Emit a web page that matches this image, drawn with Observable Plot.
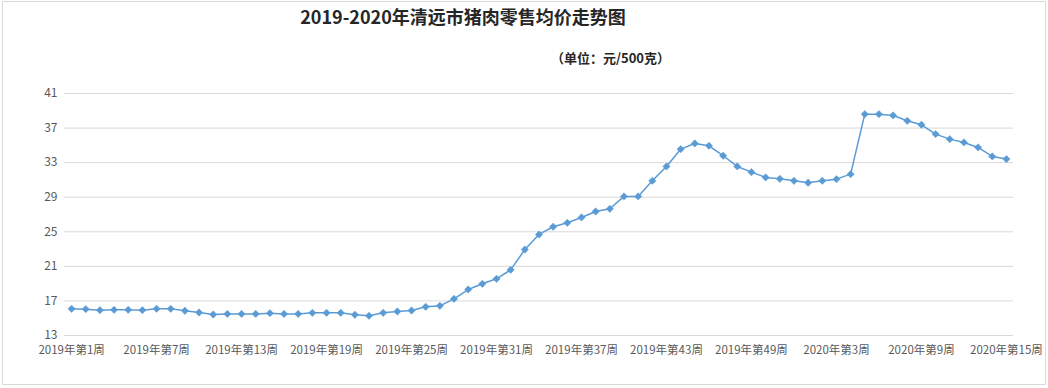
<!DOCTYPE html>
<html>
<head>
<meta charset="utf-8">
<script src="https://cdn.jsdelivr.net/npm/d3@7"></script>
<script src="https://cdn.jsdelivr.net/npm/@observablehq/plot@0.6"></script>
<style>
  html, body { margin: 0; padding: 0; background: #fff; }
  #wrap { position: relative; width: 1048px; height: 388px; overflow: hidden; font-family: "Noto Sans CJK SC", "Noto Sans", sans-serif; }
  #frame { position: absolute; left: 2px; top: 1px; width: 1044px; height: 384px; border: 1px solid #d9d9d9; box-sizing: border-box; }
  #title { position: absolute; left: 0; width: 926px; top: 4px; text-align: center; font-size: 18px; font-weight: bold; color: #262626; line-height: 24px; }
  #subtitle { position: absolute; left: 551px; top: 48px; font-size: 13px; font-weight: bold; color: #262626; line-height: 20px; }
  #chart { position: absolute; left: 0; top: 75px; }
</style>
</head>
<body>
<div id="wrap">
  <div id="frame"></div>
  <div id="title">2019-2020年清远市猪肉零售均价走势图</div>
  <div id="subtitle">（单位：元/500克）</div>
  <div id="chart"></div>
</div>
<script>
// Categories: weeks of 2019 and 2020
const years = ["2019", "2020"];
const weeksPerYear = [52, 15];
const weekLabels = [];
years.forEach((y, i) => { for (let w = 1; w <= weeksPerYear[i]; w++) weekLabels.push(`${y}年第${w}周`); });

// Series values (元/500克)
const prices2019 = [
  16.09, 16.05, 15.93, 15.97, 15.97, 15.93, 16.09, 16.09, 15.86, 15.66,
  15.43, 15.50, 15.50, 15.50, 15.58, 15.50, 15.50, 15.62, 15.62, 15.62,
  15.40, 15.28, 15.62, 15.78, 15.89, 16.32, 16.43, 17.24, 18.32, 18.98,
  19.56, 20.60, 22.95, 24.69, 25.58, 26.04, 26.66, 27.35, 27.66, 29.09,
  29.09, 30.90, 32.56, 34.56, 35.22, 34.95, 33.80, 32.56, 31.90, 31.29,
  31.13, 30.90
];
const prices2020 = [
  30.67, 30.90, 31.09, 31.67, 38.61, 38.61, 38.46, 37.84, 37.38, 36.30,
  35.72, 35.34, 34.76, 33.72, 33.41
];

// Tick labels
const yTicks = [13, 17, 21, 25, 29, 33, 37, 41];
const xTicks = weekLabels.filter((d, i) => i % 6 === 0);

const prices = prices2019.concat(prices2020);
const data = weekLabels.map((week, i) => ({week, price: prices[i]}));

const color = "#5b9bd5";
const chart = Plot.plot({
  width: 1048,
  height: 313,
  marginTop: 18,
  marginBottom: 53,
  marginLeft: 64,
  marginRight: 35,
  style: {fontFamily: '"Noto Sans CJK SC", "Noto Sans", sans-serif', fontSize: "12px", color: "#595959", background: "transparent"},
  x: {type: "point", domain: weekLabels, padding: 0.5, round: false, label: null},
  y: {domain: [13, 41], label: null},
  marks: [
    Plot.gridY(yTicks, {stroke: "#d9d9d9", strokeOpacity: 1, strokeWidth: 1}),
    Plot.axisY(yTicks, {tickSize: 0, tickPadding: 7, fontSize: 12, fill: "#595959"}),
    Plot.axisX(xTicks, {tickSize: 0, tickPadding: 10, fontSize: 11.5, fill: "#595959"}),
    Plot.line(data, {x: "week", y: "price", stroke: color, strokeWidth: 1.5}),
    Plot.dot(data, {x: "week", y: "price", symbol: "diamond2", r: 3.3, fill: color, stroke: color, strokeWidth: 0.5})
  ]
});
document.getElementById("chart").appendChild(chart);
</script>
</body>
</html>
